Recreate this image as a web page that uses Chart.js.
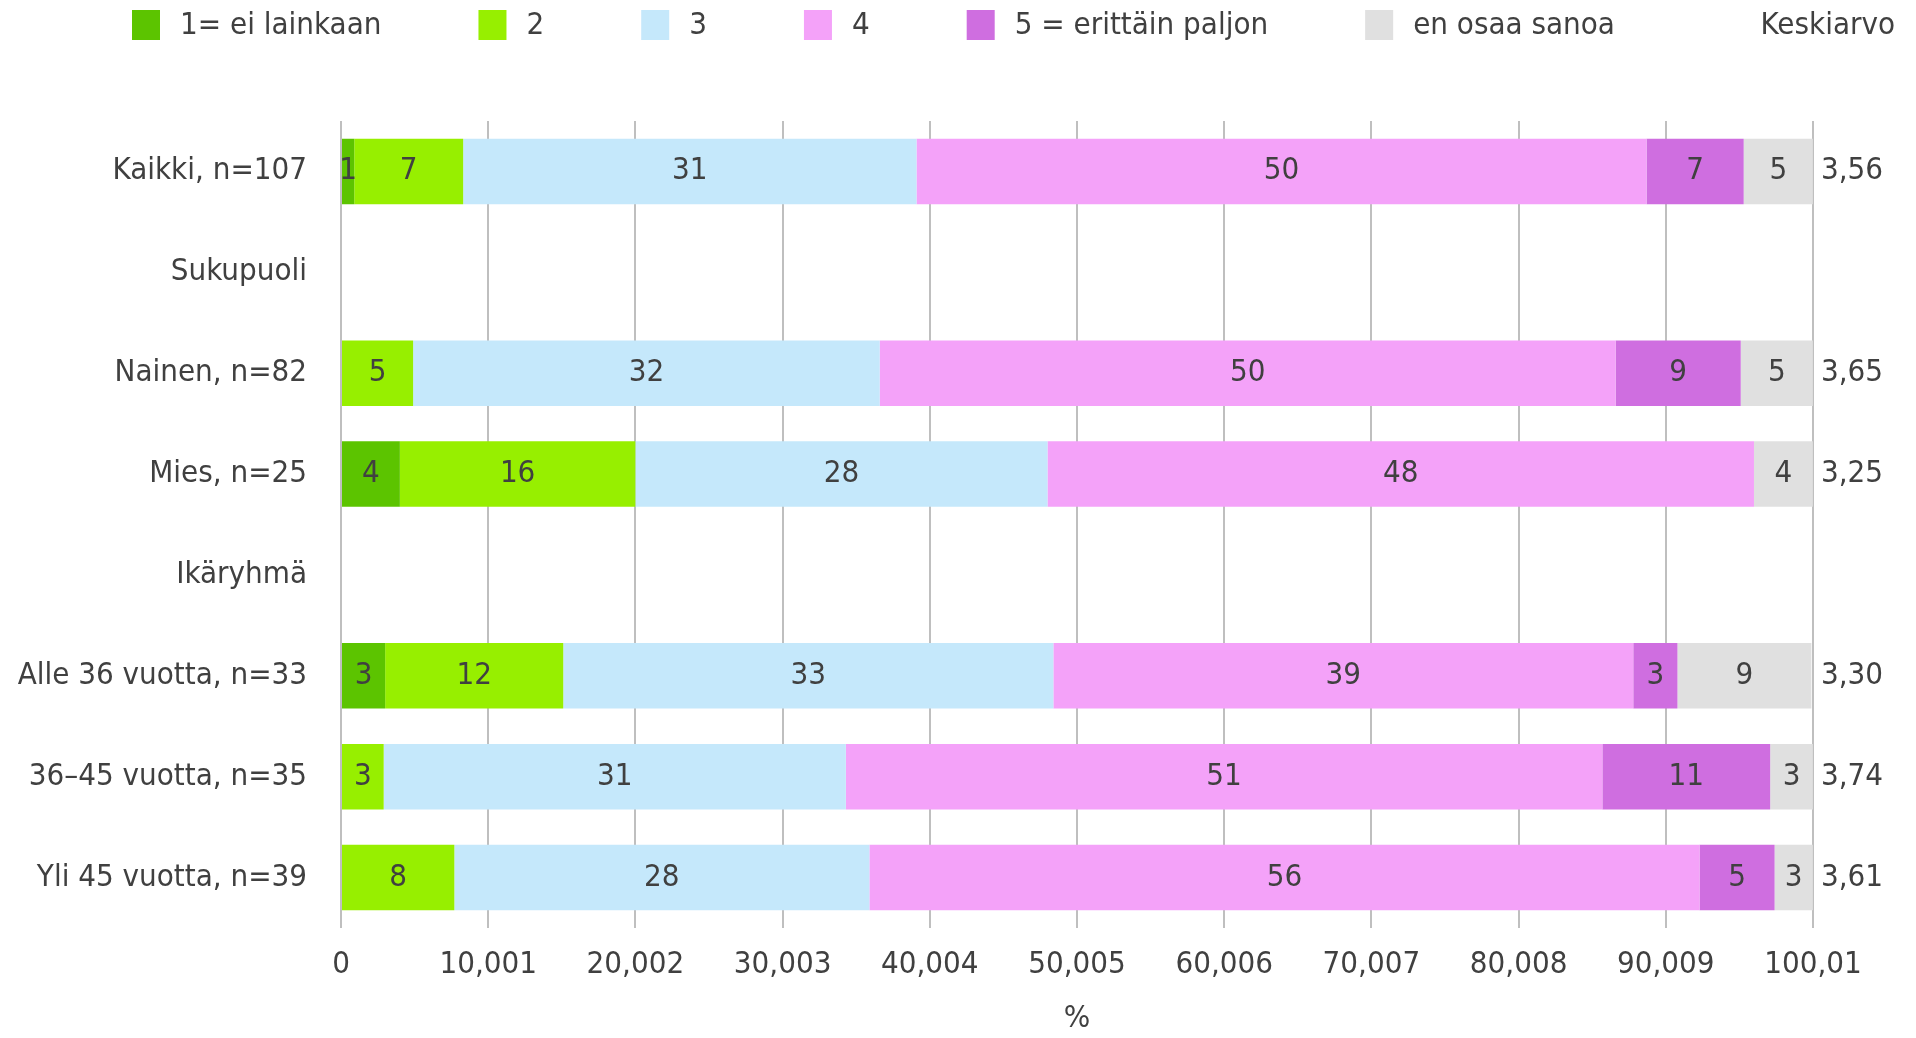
<!DOCTYPE html>
<html lang="fi">
<head>
<meta charset="utf-8">
<title>Keskiarvo</title>
<script src="https://cdn.jsdelivr.net/npm/chart.js@4.4.1/dist/chart.umd.min.js"></script>
<style>
  html, body { margin: 0; padding: 0; background: #fff; }
  #wrap { position: relative; width: 1916px; height: 1038px; }
</style>
</head>
<body>
<div id="wrap"><canvas id="chart"></canvas></div>
<script>
const categories = [
  'Kaikki, n=107', 'Sukupuoli', 'Nainen, n=82', 'Mies, n=25',
  'Ikäryhmä', 'Alle 36 vuotta, n=33', '36–45 vuotta, n=35', 'Yli 45 vuotta, n=39'
];

const seriesNames = ['1= ei lainkaan', '2', '3', '4', '5 = erittäin paljon', 'en osaa sanoa'];
const seriesColors = ['#5cc400', '#97ef00', '#c5e8fb', '#f4a2f9', '#cf6ee0', '#e0e0e0'];

// shares in %, group header rows left empty
const ans1 = [0.9, null, 0, 4.0, null, 3.0, 0, 0];
const ans2 = [7.4, null, 4.9, 16.0, null, 12.1, 2.9, 7.7];
const ans3 = [30.8, null, 31.7, 28.0, null, 33.3, 31.4, 28.2];
const ans4 = [49.6, null, 50.0, 48.0, null, 39.4, 51.4, 56.4];
const ans5 = [6.6, null, 8.5, 0, null, 3.0, 11.4, 5.1];
const ansEos = [4.7, null, 4.9, 4.0, null, 9.1, 2.9, 2.6];

const means = [3.56, null, 3.65, 3.25, null, 3.30, 3.74, 3.61];
const meanTitle = 'Keskiarvo';

const xMax = 100.01;
const xStep = 10.001;

const FONT = "'DejaVu Sans Condensed', 'Liberation Sans', sans-serif";
const SIZE = 31;
const TEXT = '#404040';

function fiNum(v, d) {
  return String(d === undefined ? parseFloat(v.toFixed(3)) : v.toFixed(d)).replace('.', ',');
}

// numbers inside the bars
const valueLabels = {
  id: 'valueLabels',
  afterDatasetsDraw(chart) {
    const ctx = chart.ctx;
    ctx.save();
    ctx.font = SIZE + 'px ' + FONT;
    ctx.fillStyle = TEXT;
    ctx.textAlign = 'center';
    ctx.textBaseline = 'middle';
    chart.data.datasets.forEach((ds, i) => {
      chart.getDatasetMeta(i).data.forEach((bar, j) => {
        const v = ds.data[j];
        if (!v) return;
        ctx.fillText(Math.round(v), (bar.x + bar.base) / 2, bar.y);
      });
    });
    ctx.restore();
  }
};

// mean column on the right + legend row on top
const extras = {
  id: 'extras',
  afterDraw(chart) {
    const ctx = chart.ctx;
    const area = chart.chartArea;
    const yScale = chart.scales.y;
    ctx.save();
    ctx.font = SIZE + 'px ' + FONT;
    ctx.fillStyle = TEXT;
    ctx.textBaseline = 'middle';
    ctx.textAlign = 'left';
    means.forEach((m, j) => {
      if (m === null) return;
      ctx.fillText(fiNum(m, 2), area.right + 8, yScale.getPixelForValue(j));
    });

    let x = 132;
    const y = 26;
    chart.data.datasets.forEach(ds => {
      ctx.fillStyle = ds.backgroundColor;
      ctx.fillRect(x, y - 16, 28, 30);
      ctx.fillStyle = TEXT;
      ctx.fillText(ds.label, x + 48, y);
      x += 48 + ctx.measureText(ds.label).width + 97;
    });
    ctx.textAlign = 'right';
    ctx.fillText(meanTitle, chart.width - 21, y);
    ctx.restore();
  }
};

const seriesData = [ans1, ans2, ans3, ans4, ans5, ansEos];

const ctx = document.getElementById('chart').getContext('2d');
const chart = new Chart(ctx, {
  type: 'bar',
  data: {
    labels: categories,
    datasets: seriesNames.map((name, i) => ({
      label: name,
      data: seriesData[i],
      backgroundColor: seriesColors[i],
      borderWidth: 0,
      barPercentage: 0.65,
      categoryPercentage: 1
    }))
  },
  options: {
    indexAxis: 'y',
    responsive: true,
    maintainAspectRatio: false,
    animation: false,
    layout: { padding: { top: 121, right: 103, left: 0, bottom: 0 } },
    plugins: {
      legend: { display: false },
      tooltip: { enabled: false }
    },
    scales: {
      x: {
        stacked: true,
        min: 0,
        max: xMax,
        grid: { color: '#bfbfbf', lineWidth: 2, drawTicks: false },
        border: { display: false },
        ticks: {
          stepSize: xStep,
          color: TEXT,
          padding: 18,
          maxRotation: 0,
          font: { family: FONT, size: SIZE },
          callback: v => fiNum(v)
        },
        title: {
          display: true,
          text: '%',
          color: TEXT,
          font: { family: FONT, size: SIZE },
          padding: { top: 0, bottom: 0 }
        },
        afterFit(scale) { scale.height = 110; }
      },
      y: {
        stacked: true,
        grid: { display: false, drawTicks: false },
        border: { display: false },
        ticks: {
          color: TEXT,
          padding: 34,
          font: { family: FONT, size: SIZE }
        },
        afterFit(scale) { scale.width = 341; }
      }
    }
  },
  plugins: [valueLabels, extras]
});
</script>
</body>
</html>
